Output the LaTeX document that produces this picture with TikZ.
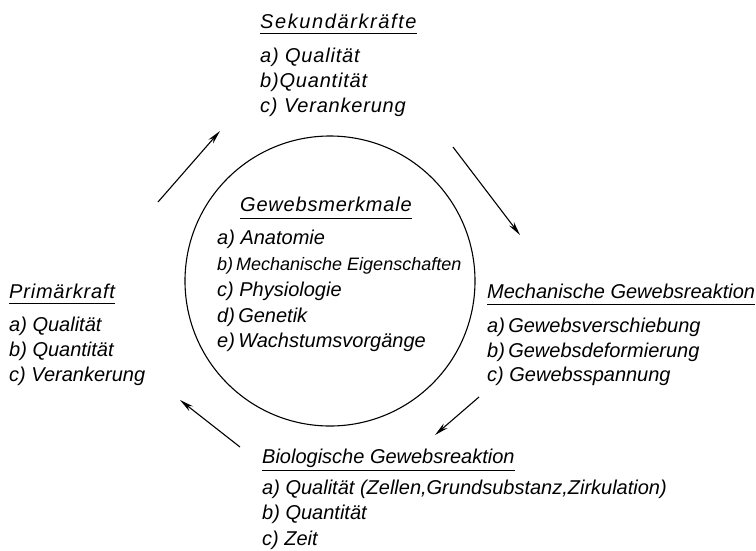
\documentclass[tikz,border=0pt]{standalone}
\usepackage{fontspec}
\setmainfont{Liberation Sans}
\newfontfamily\widefont[LetterSpace=8]{Liberation Sans}
\newfontfamily\semiwidefont[LetterSpace=4]{Liberation Sans}
\usetikzlibrary{arrows.meta}
\begin{document}
\begin{tikzpicture}[x=1pt,y=-1pt,
  txt/.style={anchor=base west, inner sep=0pt, font=\fontsize{20}{24}\selectfont\itshape},
  small/.style={anchor=base west, inner sep=0pt, font=\fontsize{18}{22}\selectfont\itshape},
  ul/.style={line width=0.9pt},
  arr/.style={line width=1.1pt, -{Stealth[length=14pt,width=6pt]}}]
\useasboundingbox (0,0) rectangle (756,550);

% centre circle
\node[draw, circle, line width=1.1pt, minimum size=290pt, inner sep=0pt] (ring) at (330,281) {};

% Sekundaerkraefte
\node[txt, font=\fontsize{20}{24}\selectfont\widefont\itshape] (sek) at (260,28) {Sekundärkräfte};
\node[txt, font=\fontsize{20}{24}\selectfont\semiwidefont\itshape] (sa) at (260,62) {a) Qualität};
\node[txt, font=\fontsize{20}{24}\selectfont\semiwidefont\itshape] (sb) at (260,87) {b)Quantität};
\node[txt, font=\fontsize{20}{24}\selectfont\semiwidefont\itshape] (sc) at (260,112) {c) Verankerung};
\draw[ul] ([yshift=-5pt]sek.base west) -- ([yshift=-5pt]sek.base east);

% Gewebsmerkmale
\node[txt, font=\fontsize{20}{24}\selectfont\semiwidefont\itshape] (gew) at (240,211) {Gewebsmerkmale};
\node[txt] (ga) at (217,244) {a) Anatomie};
\node[small] (gb) at (217,270) {b)\,Mechanische Eigenschaften};
\node[txt] (gc) at (217,296) {c) Physiologie};
\node[txt] (gd) at (217,322) {d)\,Genetik};
\node[txt] (ge) at (217,347) {e)\,Wachstumsvorgänge};
\draw[ul] ([yshift=-7pt]gew.base west) -- ([yshift=-7pt]gew.base east);

% Primaerkraft
\node[txt, font=\fontsize{20}{24}\selectfont\semiwidefont\itshape] (pri) at (9,298) {Primärkraft};
\node[txt] (pa) at (9,331) {a) Qualität};
\node[txt] (pb) at (9,356) {b) Quantität};
\node[txt] (pc) at (9,381) {c) Verankerung};
\draw[ul] ([yshift=-5pt]pri.base west) -- ([yshift=-5pt]pri.base east);

% Mechanische Gewebsreaktion
\node[txt] (mec) at (487,298) {Mechanische Gewebsreaktion};
\node[txt] (ma) at (487,332) {a)\,Gewebsverschiebung};
\node[txt] (mb) at (487,357) {b)\,Gewebsdeformierung};
\node[txt] (mc) at (487,381) {c) Gewebsspannung};
\draw[ul] ([yshift=-6pt]mec.base west) -- ([yshift=-6pt]mec.base east);

% Biologische Gewebsreaktion
\node[txt] (bio) at (262,463) {Biologische Gewebsreaktion};
\node[txt] (ba) at (262,494) {a) Qualität (Zellen,Grundsubstanz,Zirkulation)};
\node[txt] (bb) at (262,519) {b) Quantität};
\node[txt] (bc) at (262,545) {c) Zeit};
\draw[ul] ([yshift=-7pt]bio.base west) -- ([yshift=-7pt]bio.base east);

% arrows
\coordinate (tlA) at (158,202); \coordinate (tlB) at (220,131);
\coordinate (trA) at (453,147); \coordinate (trB) at (520,235);
\coordinate (brA) at (479,397); \coordinate (brB) at (435,435);
\coordinate (blA) at (240,447); \coordinate (blB) at (180,400);
\draw[arr] (tlA) -- (tlB);
\draw[arr] (trA) -- (trB);
\draw[arr] (brA) -- (brB);
\draw[arr] (blA) -- (blB);
\end{tikzpicture}
\end{document}
